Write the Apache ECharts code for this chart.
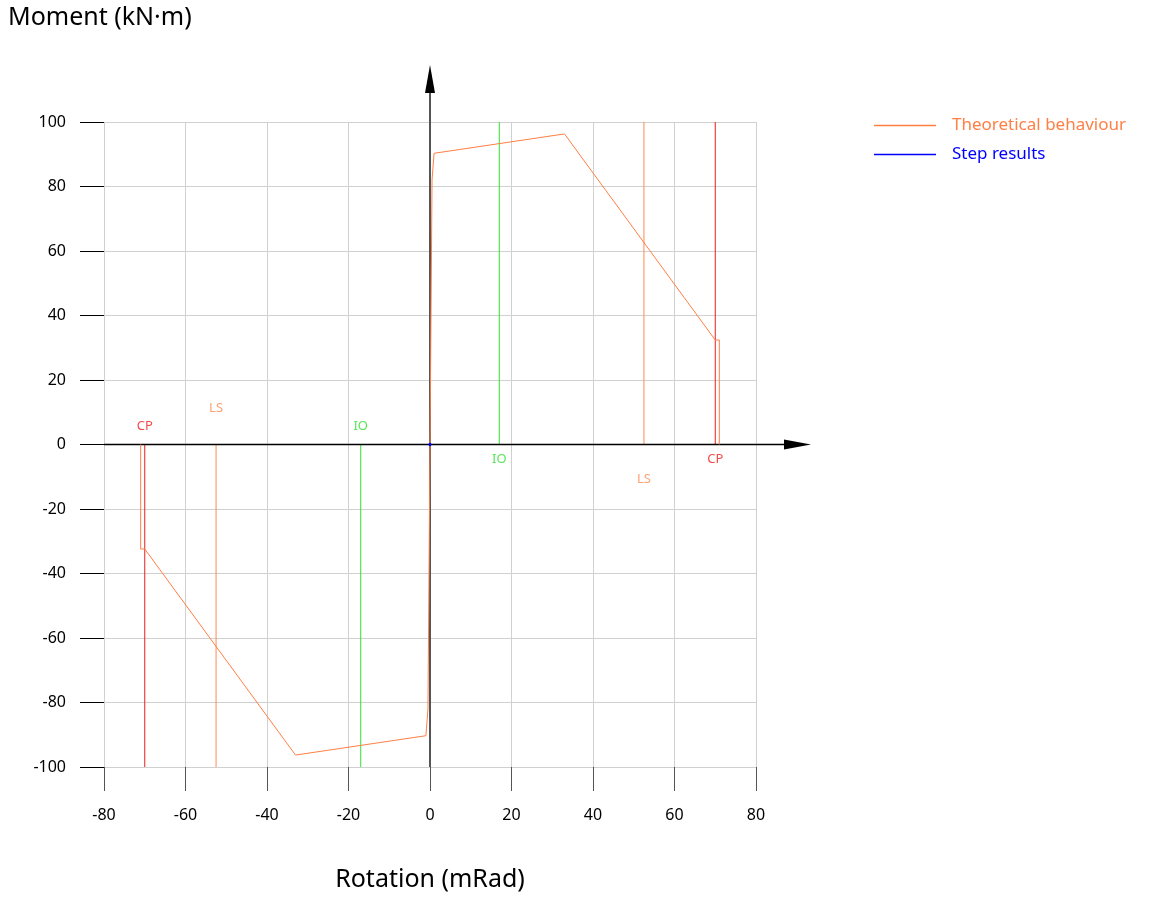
<!DOCTYPE html>
<html>
<head>
<meta charset="utf-8">
<script src="https://cdn.jsdelivr.net/npm/echarts@6/dist/echarts.min.js"></script>
<style>html,body{margin:0;padding:0;background:#fff;overflow:hidden;}#c{width:1150px;height:897px;}</style>
</head>
<body>
<div id="c"></div>
<script>
// Theoretical hinge behaviour (rotation mRad, moment kN·m)
const curveX = [-71, -71, -70, -33, -1.0, -0.5, 0, 0.5, 1.0, 33, 70, 71, 71];
const curveY = [0, -32.4, -32.4, -96.3, -90.3, -82, 0, 82, 90.3, 96.3, 32.4, 32.4, 0];
// Step results
const stepX = [-0.3, 0.3];
const stepY = [0, 0];
// Acceptance criteria
const limitNames = ['IO', 'LS', 'CP'];
const limitRot = [17, 52.5, 70];
const limitColors = ['#33e033', '#ff8a50', '#ee1c1c'];
const labelPosY = [5.5, 11.3, 5.5];
const labelNegY = [-4.6, -10.8, -4.6];
// Axis ticks
const xTicks = [-80, -60, -40, -20, 0, 20, 40, 60, 80];
const yTicks = [-100, -80, -60, -40, -20, 0, 20, 40, 60, 80, 100];

const FONT = '"Noto Sans", "Open Sans", sans-serif';
const chart = echarts.init(document.getElementById('c'), null, {renderer: 'canvas', width: 1150, height: 897});

const series = [];
limitNames.forEach((n, i) => {
  const r = limitRot[i];
  series.push({
    name: n + '+', type: 'line', symbol: 'none', silent: true,
    lineStyle: {color: limitColors[i], width: 1},
    data: [[r, 0], [r, yTicks[yTicks.length - 1]]], z: 3
  });
  series.push({
    name: n + '-', type: 'line', symbol: 'none', silent: true,
    lineStyle: {color: limitColors[i], width: 1},
    data: [[-r, 0], [-r, yTicks[0]]], z: 3
  });
  series.push({
    name: n + ' labels', type: 'scatter', symbolSize: 0, silent: true,
    data: [[-r, labelPosY[i]], [r, labelNegY[i]]],
    label: {show: true, position: 'inside', formatter: n, color: limitColors[i], fontSize: 13, fontFamily: FONT}
  });
});

// zero axes with arrows
series.push({
  name: 'axes', type: 'custom', silent: true, z: 5,
  data: [[0, 0]],
  renderItem: function (params, api) {
    const xa = api.coord([xTicks[0], 0]);
    const xb = api.coord([xTicks[xTicks.length - 1], 0]);
    const ya = api.coord([0, yTicks[0]]);
    const yb = api.coord([0, yTicks[yTicks.length - 1]]);
    const xTip = xb[0] + 55, yTip = yb[1] - 57;
    return {
      type: 'group',
      children: [
        {type: 'line', shape: {x1: xa[0], y1: xa[1], x2: xTip - 20, y2: xb[1]}, style: {stroke: '#000', lineWidth: 1.5}},
        {type: 'polygon', shape: {points: [[xTip, xb[1]], [xTip - 27, xb[1] - 5], [xTip - 27, xb[1] + 5]]}, style: {fill: '#000'}},
        {type: 'line', shape: {x1: ya[0], y1: ya[1], x2: yb[0], y2: yTip + 20}, style: {stroke: '#555', lineWidth: 2}},
        {type: 'polygon', shape: {points: [[yb[0], yTip], [yb[0] - 5, yTip + 28], [yb[0] + 5, yTip + 28]]}, style: {fill: '#000'}}
      ]
    };
  }
});

series.push({
  name: 'Theoretical behaviour', type: 'line', symbol: 'none', z: 6,
  lineStyle: {color: '#ff7f45', width: 1},
  itemStyle: {color: '#ff7f45'},
  data: curveX.map((x, i) => [x, curveY[i]])
});
series.push({
  name: 'Step results', type: 'line', symbol: 'none', z: 7,
  lineStyle: {color: '#0000ff', width: 3},
  itemStyle: {color: '#0000ff'},
  data: stepX.map((x, i) => [x, stepY[i]])
});

chart.setOption({
  animation: false,
  backgroundColor: '#fff',
  textStyle: {fontFamily: FONT},
  title: [{
    text: 'Moment (kN·m)', left: 3, top: 0,
    textStyle: {fontSize: 25, fontWeight: 'normal', color: '#000', fontFamily: FONT}
  }],
  legend: {
    orient: 'vertical', left: 869, top: 110, itemGap: 8,
    itemWidth: 62, itemHeight: 1.5, icon: 'rect',
    data: [
      {name: 'Theoretical behaviour', textStyle: {color: '#ff7f45'}},
      {name: 'Step results', textStyle: {color: '#0000ff'}}
    ],
    textStyle: {fontSize: 17, fontFamily: FONT, lineHeight: 21, padding: [0, 0, 0, 11]}
  },
  grid: {left: 104, width: 652, top: 122, height: 653, containLabel: false},
  xAxis: {
    type: 'value', min: xTicks[0], max: xTicks[xTicks.length - 1], interval: 20,
    name: 'Rotation (mRad)', nameLocation: 'middle', nameGap: 100,
    nameTextStyle: {fontSize: 25, color: '#000', fontFamily: FONT},
    axisLine: {show: false, onZero: false},
    axisTick: {show: true, length: 24, lineStyle: {color: '#555'}},
    axisLabel: {margin: 40, fontSize: 16, color: '#000', fontFamily: FONT},
    splitLine: {show: true, lineStyle: {color: '#d0d0d0'}}
  },
  yAxis: {
    type: 'value', min: yTicks[0], max: yTicks[yTicks.length - 1], interval: 20,
    axisLine: {show: false, onZero: false},
    axisTick: {show: true, length: 24, lineStyle: {color: '#000'}},
    axisLabel: {margin: 38, fontSize: 16, color: '#000', fontFamily: FONT},
    splitLine: {show: true, lineStyle: {color: '#d0d0d0'}}
  },
  series: series
});
</script>
</body>
</html>
